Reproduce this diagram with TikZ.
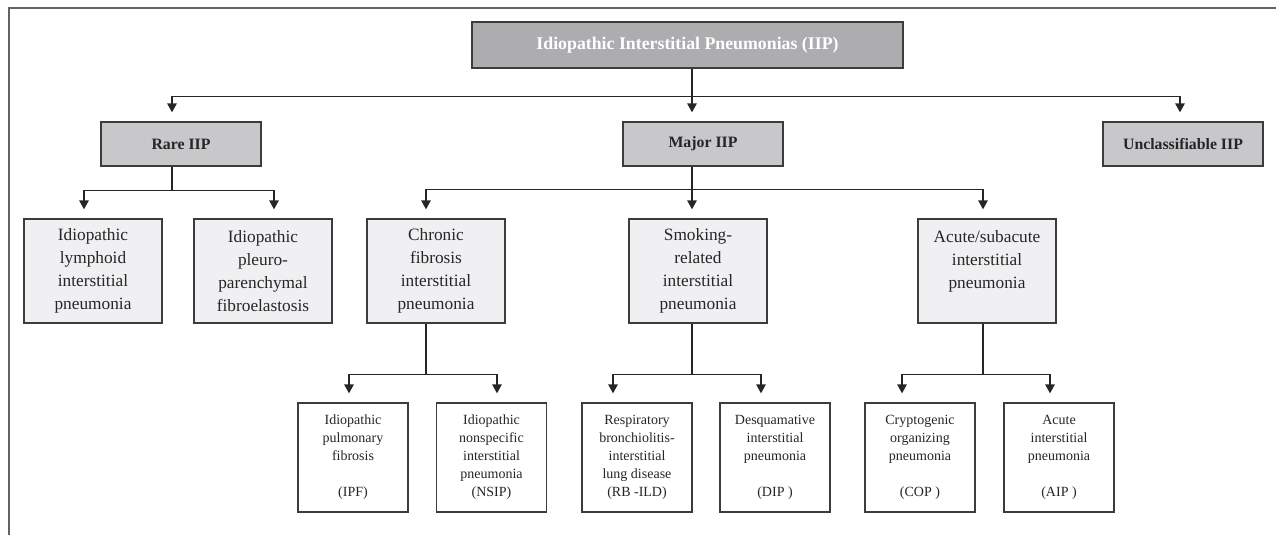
\documentclass[tikz,border=0pt]{standalone}
\usepackage{fontspec}
\setmainfont{Liberation Serif}
\usetikzlibrary{arrows.meta,positioning}
\definecolor{TitleGray}{RGB}{173,173,176}
\definecolor{GroupGray}{RGB}{200,200,202}
\definecolor{PaleGray}{RGB}{240,240,242}
\definecolor{EdgeGray}{RGB}{60,60,60}

\begin{document}
\begin{tikzpicture}[x=1pt,y=-1pt,
    box/.style={draw=EdgeGray,line width=1.3pt,inner sep=0pt,align=center,text=black!85},
    topbox/.style={box,fill=TitleGray,minimum width=431pt,minimum height=46pt,
      text=white,font=\bfseries\fontsize{17.8}{20}\selectfont},
    groupbox/.style={box,fill=GroupGray,minimum width=160pt,minimum height=44pt,
      font=\bfseries\fontsize{15.8}{19}\selectfont},
    typebox/.style={box,fill=PaleGray,minimum width=138pt,minimum height=104pt,
      font=\fontsize{17.3}{23}\selectfont},
    leafbox/.style={box,fill=white,minimum width=110pt,minimum height=109pt,
      font=\fontsize{14}{18}\selectfont},
    link/.style={draw=black!85,line width=1.4pt,-{Triangle[width=9.5pt,length=9pt]},shorten >=9pt}]
  \useasboundingbox (0,0) rectangle (1276,535);
  \draw[EdgeGray!80,line width=1.5pt] (9,535) -- (9,8) -- (1276,8);

  % top and groups
  \node[topbox] (iip) at (687.5,45) {Idiopathic Interstitial Pneumonias (IIP)};
  \node[groupbox] (rare) at (181,144) {Rare IIP};
  \node[groupbox] (major) at (703,144) {Major IIP};
  \node[groupbox] (uncl) at (1183,144) {Unclassifiable IIP};

  % types
  \node[typebox] (lip) at (93,271) {Idiopathic\\lymphoid\\interstitial\\pneumonia};
  \node[typebox] (ppfe) at (263,271) {Idiopathic\\pleuro-\\parenchymal\\fibroelastosis};
  \node[typebox] (chronic) at (436,271) {Chronic\\fibrosis\\interstitial\\pneumonia};
  \node[typebox] (smoking) at (698,271) {Smoking-\\related\\interstitial\\pneumonia};
  \node[typebox] (acute) at (987,271) {Acute/subacute\\interstitial\\pneumonia\\~};

  % entities
  \foreach \n/\x/\t in {ipf/353/{Idiopathic\\pulmonary\\fibrosis\\~\\(IPF)},
      nsip/491.5/{Idiopathic\\nonspecific\\interstitial\\pneumonia\\(NSIP)},
      rbild/637/{Respiratory\\bronchiolitis-\\interstitial\\lung disease\\(RB -ILD)},
      dip/775/{Desquamative\\interstitial\\pneumonia\\~\\(DIP )},
      cop/920/{Cryptogenic\\organizing\\pneumonia\\~\\(COP )},
      aip/1059/{Acute\\interstitial\\pneumonia\\~\\(AIP )}}
    \node[leafbox] (\n) at (\x,457.5) {\t};

  % connectors
  \foreach \c/\dx in {rare/-9,major/-11,uncl/-3}
    \draw[link] ([xshift=4.5pt]iip.south) -- ++(0,28) -| ([xshift=\dx pt]\c.north);
  \foreach \c/\dx in {lip/-9,ppfe/11}
    \draw[link] ([xshift=-9pt]rare.south) -- ++(0,24) -| ([xshift=\dx pt]\c.north);
  \foreach \c/\dx in {chronic/-10,smoking/-6,acute/-4}
    \draw[link] ([xshift=-11pt]major.south) -- ++(0,23) -| ([xshift=\dx pt]\c.north);
  \foreach \p/\s/\c/\dx in {chronic/-10/ipf/-4,chronic/-10/nsip/5.5,
      smoking/-6/rbild/-24,smoking/-6/dip/-14,acute/-4/cop/-18,acute/-4/aip/-9}
    \draw[link] ([xshift=\s pt]\p.south) -- ++(0,51) -| ([xshift=\dx pt]\c.north);
\end{tikzpicture}
\end{document}
